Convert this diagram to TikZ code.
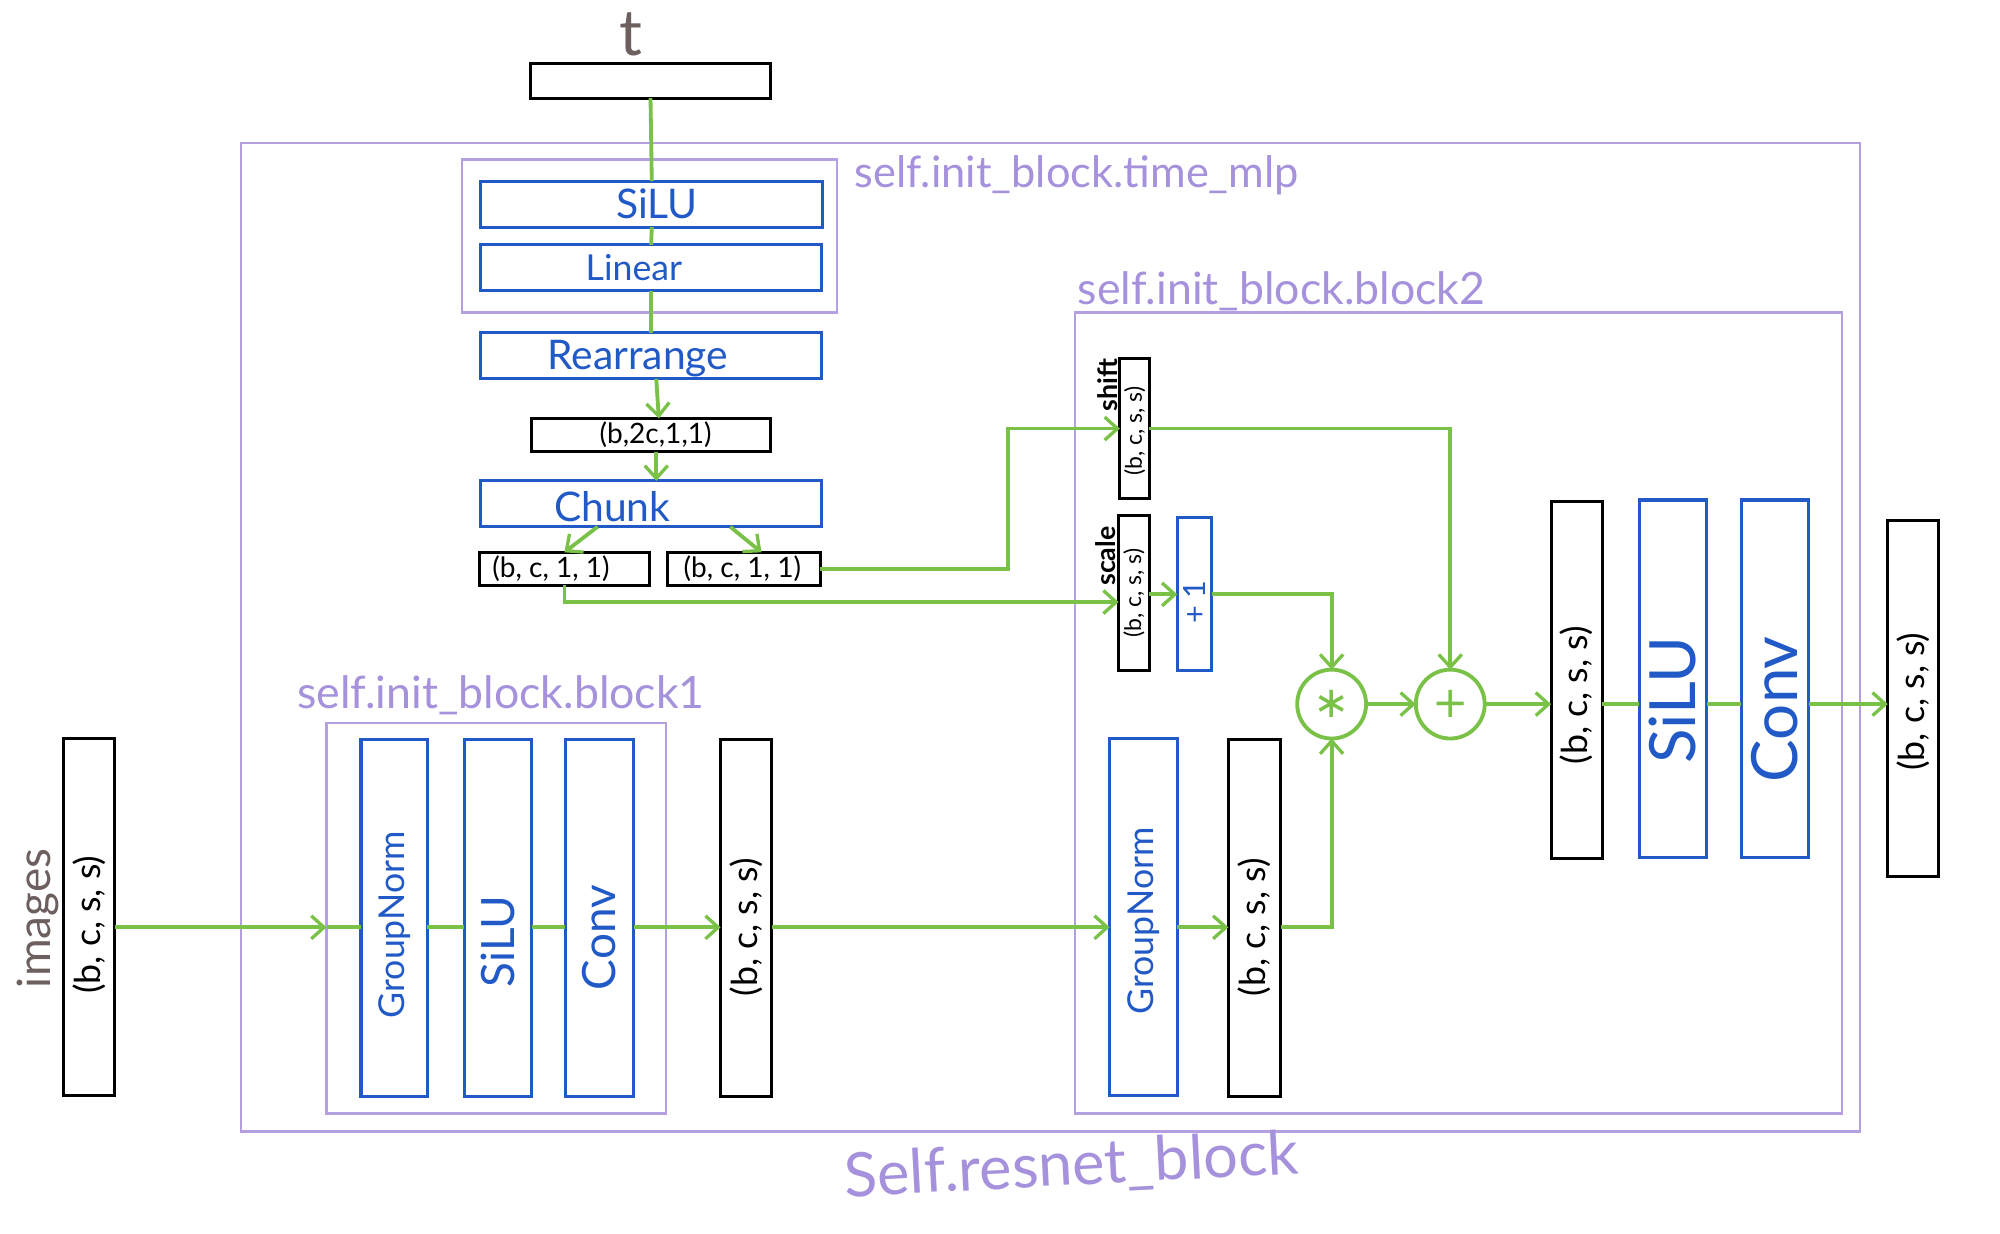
\documentclass[tikz,border=0pt]{standalone}
\usepackage{fontspec}
\setmainfont{Lato}
\newfontfamily\djv{DejaVu Sans}
\usetikzlibrary{arrows.meta,calc}
\definecolor{lgreen}{HTML}{7AC148}
\definecolor{hblue}{HTML}{2159C6}
\definecolor{lpurple}{HTML}{B4A0E1}
\definecolor{ptext}{HTML}{A591DC}
\definecolor{tbrown}{HTML}{6E5F5F}
\begin{document}
\begin{tikzpicture}[x=1pt,y=-1pt,
  every node/.style={inner sep=0pt, outer sep=0pt},
  fs/.style={font=\fontsize{#1}{#1}\selectfont},
  fsb/.style={font=\fontsize{#1}{#1}\selectfont\bfseries},
  fsd/.style={font=\fontsize{#1}{#1}\selectfont\djv},
  bk/.style={draw=black, line width=2.4pt, fill=white},
  bl/.style={draw=hblue, line width=2.4pt, fill=white},
  pp/.style={draw=lpurple, line width=1.8pt},
  gl/.style={draw=lgreen, line width=3pt},
  ga/.style={gl, -{Straight Barb[length=10pt,width=18pt,line width=2.6pt]}},
  gc/.style={draw=lgreen, line width=3pt, circle, minimum size=54pt, fill=white, text=lgreen},
  btx/.style={text=hblue},
  ktx/.style={text=black},
  ptx/.style={text=ptext},
  rot/.style={rotate=90}
]
\useasboundingbox (0,0) rectangle (1568,967);
\fill[white] (0,0) rectangle (1568,967);
\coordinate (rA) at (0,727);
\coordinate (rB) at (0,552);
\coordinate (yS) at (0,472);

% containers
\node[pp, minimum width=1269, minimum height=775] (outer) at (823.5,499.5) {};
\node[pp, minimum width=294, minimum height=120] (mlp) at (509,185) {};
\node[pp, minimum width=601, minimum height=628] (blk2) at (1143.5,559) {};
\node[pp, minimum width=266, minimum height=306] (blk1) at (389,720) {};

% container labels
\node[ptx, fs=34, anchor=west] (lmlp) at (670,137) {self.init\_block.time\_mlp};
\node[ptx, fs=35, anchor=west] (lb2) at (845,228) {self.init\_block.block2};
\node[ptx, fs=35, anchor=west] (lb1) at (233,545) {self.init\_block.block1};
\node[ptx, fs=48, rotate=3] (lres) at (840,915) {Self.resnet\_block};

% time input
\node[bk, minimum width=188, minimum height=27] (tbox) at (510,63.5) {};
\node[text=tbrown, fs=50] (tlab) at (495,27) {t};

% time mlp
\node[bl, minimum width=268, minimum height=36] (silu1) at (511,160) {};
\node[btx, fs=32] (silu1t) at (515,160) {SiLU};
\node[bl, minimum width=267, minimum height=36] (linear) at (510.5,210) {};
\node[btx, fs=28] (lineart) at (497,210) {Linear};
\node[bl, minimum width=267, minimum height=36] (rearr) at (510.5,279) {};
\node[btx, fs=32] (rearrt) at (500,281) {Rearrange};
\node[bk, minimum width=187, minimum height=26] (b2c) at (510.5,341) {};
\node[ktx, fs=22] (b2ct) at (514,341) {(b,2c,1,1)};
\node[bl, minimum width=267, minimum height=36] (chunk) at (510.5,395) {};
\node[btx, fs=32] (chunkt) at (480,397) {Chunk};
\node[bk, minimum width=133, minimum height=26] (bcL) at (442.5,446) {};
\node[ktx, fs=22] (bcLt) at (432,446) {(b, c, 1, 1)};
\node[bk, minimum width=120, minimum height=26] (bcR) at (583,446) {};
\node[ktx, fs=22] (bcRt) at (582,446) {(b, c, 1, 1)};

% shift / scale
\node[bk, minimum width=23, minimum height=110] (shiftb) at (889.5,336) {};
\node[ktx, fs=18, rot] (shiftt) at (889.5,338) {(b, c, s, s)};
\node[ktx, fsb=21, rot] (shiftl) at (868,302) {shift};
\node[bk, minimum width=24, minimum height=122] (scaleb) at (889,465) {};
\node[ktx, fs=18, rot] (scalet) at (889,465) {(b, c, s, s)};
\node[ktx, fsb=21, rot] (scalel) at (867,436) {scale};
\node[bl, minimum width=27, minimum height=120] (plus1) at (936.5,466) {};
\node[btx, fs=24, rot] (plus1t) at (936.5,472) {+ 1};

% combine
\node[gc, fsd=34] (mul) at (1044,552) {∗};
\node[gc, fsd=34] (add) at (1137,552) {+};

% block2 right
\node[bk, minimum width=40, minimum height=280] (out1) at (1236,533) {};
\node[ktx, fs=28, rot] (out1t) at (1236,545) {(b, c, s, s)};
\node[bl, minimum width=53, minimum height=280] (silu3) at (1311.5,532) {};
\node[btx, fs=50, rot] (silu3t) at (1311.5,549) {SiLU};
\node[bl, minimum width=53, minimum height=280] (conv3) at (1391.5,532) {};
\node[btx, fs=50, rot] (conv3t) at (1391.5,556) {Conv};
\node[bk, minimum width=40, minimum height=279] (final) at (1500,547.5) {};
\node[ktx, fs=28, rot] (finalt) at (1500,550) {(b, c, s, s)};

% bottom row
\node[bk, minimum width=40, minimum height=280] (img) at (70,719) {};
\node[ktx, fs=28, rot] (imgt) at (70,725) {(b, c, s, s)};
\node[text=tbrown, fs=36, rot] (imgl) at (30,720) {images};
\node[bl, minimum width=52, minimum height=280] (gn1) at (309,720) {};
\node[btx, fs=28, rot] (gn1t) at (309,725) {GroupNorm};
\node[bl, minimum width=53, minimum height=280] (silu2) at (390.5,720) {};
\node[btx, fs=36, rot] (silu2t) at (390.5,738) {SiLU};
\node[bl, minimum width=54, minimum height=280] (conv1) at (470,720) {};
\node[btx, fs=36, rot] (conv1t) at (470,735) {Conv};
\node[bk, minimum width=40, minimum height=280] (mid1) at (585,720) {};
\node[ktx, fs=28, rot] (mid1t) at (585,727) {(b, c, s, s)};
\node[bl, minimum width=53, minimum height=280] (gn2) at (896.5,719) {};
\node[btx, fs=28, rot] (gn2t) at (896.5,722) {GroupNorm};
\node[bk, minimum width=41, minimum height=280] (mid2) at (983.5,720) {};
\node[ktx, fs=28, rot] (mid2t) at (983.5,727) {(b, c, s, s)};

% connectors: time path
\draw[gl] (tbox.south) -- (silu1.north);
\draw[gl] (silu1.south) -- (linear.north);
\draw[gl] (linear.south) -- (rearr.north);
\draw[ga] ($(rearr.south)+(4,0)$) -- ($(b2c.north)+(6,0)$);
\draw[ga] ($(b2c.south)+(4,0)$) -- ($(chunk.north)+(4,0)$);
\draw[ga] ($(chunk.south)+(-42,0)$) -- (bcL.north);
\draw[ga] ($(chunk.south)+(62,0)$) -- ($(bcR.north)+(14,0)$);
\draw[ga] (bcR.east) -- ++(147,0) |- (shiftb.west);
\draw[ga] (bcL.south) |- (scaleb.west |- yS);
\draw[ga] (shiftb.east) -| (add.north);
\draw[ga] (scaleb.east |- plus1.west) -- (plus1.west);
\draw[ga] (plus1.east) -| (mul.north);
\draw[ga] (mul.east) -- (add.west);
\draw[ga] (add.east) -- (out1.west |- rB);
\draw[gl] (out1.east |- rB) -- (silu3.west |- rB);
\draw[gl] (silu3.east |- rB) -- (conv3.west |- rB);
\draw[ga] (conv3.east |- rB) -- (final.west |- rB);

% connectors: image path
\draw[ga] (img.east |- rA) -- (blk1.west |- rA);
\draw[gl] (blk1.west |- rA) -- (gn1.west |- rA);
\draw[gl] (gn1.east |- rA) -- (silu2.west |- rA);
\draw[gl] (silu2.east |- rA) -- (conv1.west |- rA);
\draw[ga] (conv1.east |- rA) -- (mid1.west |- rA);
\draw[ga] (mid1.east |- rA) -- (gn2.west |- rA);
\draw[ga] (gn2.east |- rA) -- (mid2.west |- rA);
\draw[ga] (mid2.east |- rA) -| (mul.south);
\end{tikzpicture}
\end{document}
